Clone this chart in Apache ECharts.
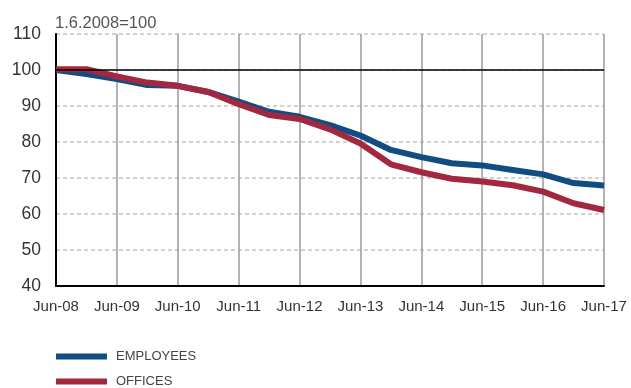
<!DOCTYPE html>
<html>
<head>
<meta charset="utf-8">
<script src="https://cdn.jsdelivr.net/npm/echarts@6/dist/echarts.min.js"></script>
<style>
  html, body { margin: 0; padding: 0; background: #fff; }
  #chart { width: 631px; height: 388px; }
</style>
</head>
<body>
<div id="chart"></div>
<script>
// Half-yearly observations, June 2008 to June 2017
const periods = [
  'Jun-08', 'Dec-08', 'Jun-09', 'Dec-09', 'Jun-10', 'Dec-10', 'Jun-11', 'Dec-11',
  'Jun-12', 'Dec-12', 'Jun-13', 'Dec-13', 'Jun-14', 'Dec-14', 'Jun-15', 'Dec-15',
  'Jun-16', 'Dec-16', 'Jun-17'
];
const employees = [100, 98.9, 97.5, 95.8, 95.6, 93.9, 91.2, 88.4, 87.0, 84.7, 81.8,
  77.8, 75.8, 74.1, 73.5, 72.2, 71.0, 68.6, 67.9];
const offices = [100.2, 100.2, 98.2, 96.5, 95.6, 93.9, 90.5, 87.5, 86.4, 83.5, 79.6,
  73.8, 71.6, 69.8, 69.0, 68.0, 66.2, 63.0, 61.1];
const yTicks = { min: 40, max: 110, step: 10 };
const baseLevel = 100;
const baseNote = '1.6.2008=100';

const chart = echarts.init(document.getElementById('chart'), null, { renderer: 'canvas' });
const font = '"Liberation Sans", Arial, Helvetica, sans-serif';
const legendText = {
  fontFamily: '"Liberation Sans Narrow", "Liberation Sans", Arial, sans-serif',
  fontSize: 13, color: '#444', padding: [0, 0, 0, 4]
};

// one legend entry per block, stacked under the plot
function legendBlock(name, top) {
  return {
    orient: 'vertical', left: 51, top: top,
    icon: 'rect', itemWidth: 51, itemHeight: 6,
    textStyle: legendText, data: [name]
  };
}

chart.setOption({
  animation: false,
  backgroundColor: '#ffffff',
  grid: { left: 56, right: 27, top: 34, bottom: 102, containLabel: false },
  title: {
    text: baseNote,
    left: 50, top: 10,
    textStyle: { fontFamily: font, fontSize: 16.5, fontWeight: 'normal', color: '#555' }
  },
  legend: [legendBlock('EMPLOYEES', 345), legendBlock('OFFICES', 370)],
  xAxis: {
    type: 'category',
    data: periods,
    boundaryGap: false,
    axisLine: { lineStyle: { color: '#000', width: 2 } },
    axisTick: { show: false },
    axisLabel: {
      interval: 1, margin: 13,
      fontFamily: font, fontSize: 15, color: '#333'
    },
    splitLine: {
      show: true, interval: 1,
      lineStyle: { color: '#9a9a9a', width: 1.5 }
    }
  },
  yAxis: {
    type: 'value',
    min: yTicks.min, max: yTicks.max, interval: yTicks.step,
    axisLine: { show: true, lineStyle: { color: '#000', width: 2 } },
    axisTick: { show: false },
    axisLabel: { margin: 15, fontFamily: font, fontSize: 17.5, color: '#333' },
    splitLine: {
      show: true,
      lineStyle: { color: '#c4c4c4', width: 1.5, type: [4, 3] }
    }
  },
  series: [
    {
      // base level reference line
      name: 'base', type: 'line', data: [], z: 1, silent: true,
      markLine: {
        symbol: 'none', silent: true, animation: false,
        label: { show: false },
        lineStyle: { color: '#000', width: 1.5, type: 'solid' },
        data: [{ yAxis: baseLevel }]
      }
    },
    {
      name: 'EMPLOYEES', type: 'line', data: employees, z: 3,
      symbol: 'none', color: '#114c82',
      lineStyle: { width: 6, color: '#114c82', join: 'round' }
    },
    {
      name: 'OFFICES', type: 'line', data: offices, z: 4,
      symbol: 'none', color: '#a2283f',
      lineStyle: { width: 6, color: '#a2283f', join: 'round' }
    }
  ]
});
</script>
</body>
</html>
